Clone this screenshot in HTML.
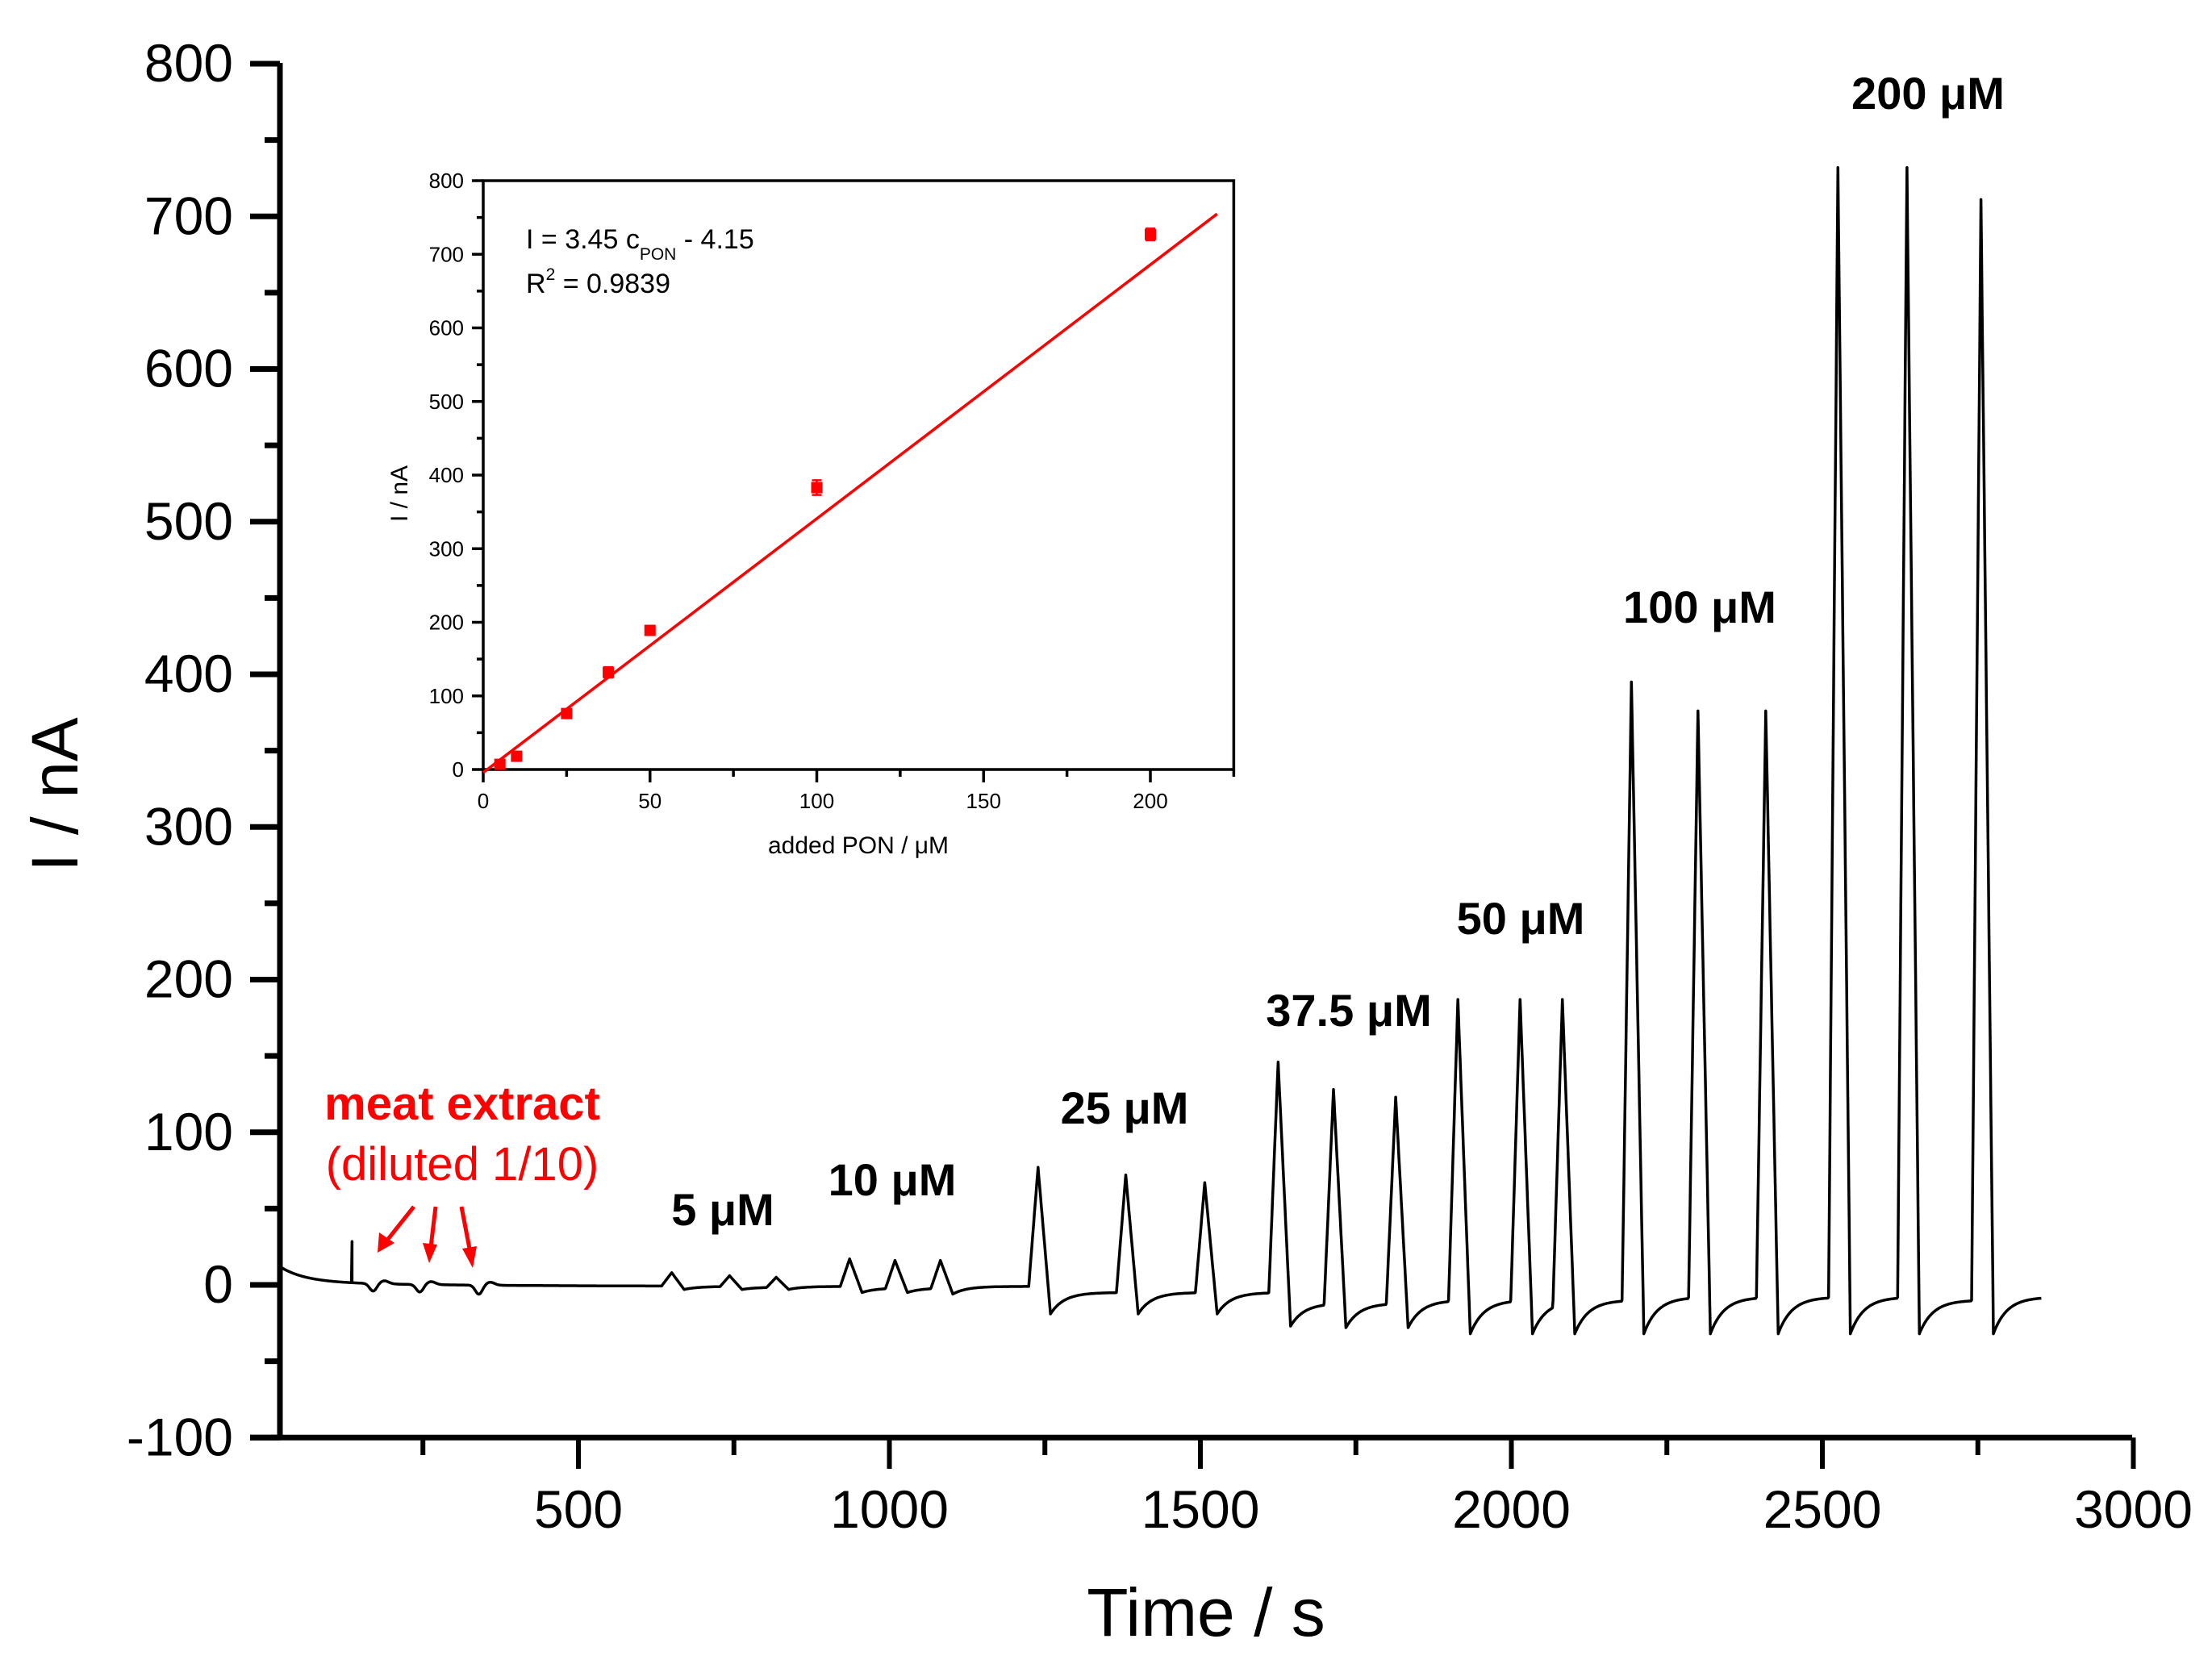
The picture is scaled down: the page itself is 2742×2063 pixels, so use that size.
<!DOCTYPE html>
<html><head><meta charset="utf-8"><style>
html,body{margin:0;padding:0;background:#fff;}
svg{display:block;font-family:"Liberation Sans",Arial,sans-serif;}
</style></head><body>
<svg id="chart" width="2742" height="2063" viewBox="0 0 2742 2063" xmlns="http://www.w3.org/2000/svg">
<g id="main-axes"></g>
<g id="trace-g"></g>
<g id="annot">
<text x="2390" y="135" font-size="56" font-weight="bold" text-anchor="middle">200 μM</text>
<text x="2107" y="772" font-size="56" font-weight="bold" text-anchor="middle">100 μM</text>
<text x="1885" y="1158" font-size="56" font-weight="bold" text-anchor="middle">50 μM</text>
<text x="1672" y="1272" font-size="56" font-weight="bold" text-anchor="middle">37.5 μM</text>
<text x="1394" y="1393" font-size="56" font-weight="bold" text-anchor="middle">25 μM</text>
<text x="1106" y="1482" font-size="56" font-weight="bold" text-anchor="middle">10 μM</text>
<text x="896" y="1519" font-size="56" font-weight="bold" text-anchor="middle">5 μM</text>
<text x="573" y="1388" font-size="58" font-weight="bold" fill="#ff0000" text-anchor="middle">meat extract</text>
<text x="573" y="1463" font-size="58" fill="#ff0000" text-anchor="middle">(diluted 1/10)</text>
<g stroke="#ff0000" stroke-width="5" fill="#ff0000">
<line x1="513" y1="1496" x2="478" y2="1540"/><polygon points="468,1553 470,1528 489,1541" stroke="none"/>
<line x1="540" y1="1496" x2="534" y2="1546"/><polygon points="532,1566 524,1541 542,1543" stroke="none"/>
<line x1="572" y1="1496" x2="582" y2="1548"/><polygon points="586,1572 573,1548 591,1545" stroke="none"/>
</g>
</g>
<g id="inset"></g>
</svg>
<script>
// ---- main trace data ----
const peakTimes = [650,743,818, 936,1009,1082, 1239,1380,1507, 1625,1714,1814, 1914,2014,2082, 2193,2300,2409, 2525,2636,2755];
const peakHeights = [8,6,5, 17,16,16, 77,72,67, 146,128,123, 187,187,187, 395,376,376, 732,732,711];
const dipValues = [-3,-3,-3, -5,-5,-6, -19,-19,-19, -27,-28,-28, -32,-32,-32, -32,-32,-32, -32,-32,-32];
const preLevels = [0,-1,-1.5, -1,-2,-2, -1,-5,-5, -5,-12,-12, -10,-10,-10, -10,-8,-8, -8,-8,-10];
const endLevel = -8;
const meatTimes = [170,245,340];
const meatDips = [-5,-5,-6];
const spikeTime = 136, spikeHeight = 27;
const tStart = 20, tEnd = 2852;
const xTicks = [500,1000,1500,2000,2500,3000];
const yTicks = [-100,0,100,200,300,400,500,600,700,800];
// ---- inset data ----
const calX = [5,10,25,37.5,50,100,200];
const calY = [7,18,76,132,189,383,727];
const calErr = [3,3,4,7,4,10,8];
const fitSlope = 3.45, fitIntercept = -4.15;
const insetXTicks = [0,50,100,150,200];
const insetYTicks = [0,100,200,300,400,500,600,700,800];

const NS = "http://www.w3.org/2000/svg";
function mk(tag, attrs, parent){ const e=document.createElementNS(NS,tag); for(const k in attrs) e.setAttribute(k,attrs[k]); parent.appendChild(e); return e; }

// main axis functions
const X = t => 331.5 + t*0.771;
const Y = v => 1593 - v*1.8925;
const ax = document.getElementById('main-axes');
const xL = 347, xR = 2640, yTop = 81, yBot = Y(-100);

let e;
e = mk('line',{x1:xL,y1:yTop-3,x2:xL,y2:yBot+3,stroke:'#000','stroke-width':7},ax);
 
e = mk('line',{x1:310,y1:yBot,x2:xR+3,y2:yBot,stroke:'#000','stroke-width':7},ax);
 
yTicks.forEach(v=>{
  const y=Y(v);
  const t=mk('line',{x1:310,y1:y,x2:xL,y2:y,stroke:'#000','stroke-width':7},ax);
   
  const l=mk('text',{x:289,y:y+22,'font-size':66,'text-anchor':'end'},ax); l.textContent=v;
   
  if(v<800){ const m=mk('line',{x1:328,y1:Y(v+50),x2:xL,y2:Y(v+50),stroke:'#000','stroke-width':7},ax);
      }
});
xTicks.forEach(v=>{
  const x=X(v);
  const t=mk('line',{x1:x,y1:yBot,x2:x,y2:1821,stroke:'#000','stroke-width':6},ax);
   
  const l=mk('text',{x:x,y:1894,'font-size':66,'text-anchor':'middle'},ax); l.textContent=v;
   
  const m=mk('line',{x1:X(v-250),y1:yBot,x2:X(v-250),y2:1804,stroke:'#000','stroke-width':6},ax);
   
});
e = mk('text',{x:1495,y:2028,'font-size':84,'text-anchor':'middle'},ax); e.textContent='Time / s';
 
e = mk('text',{x:0,y:0,'font-size':82,'text-anchor':'middle',transform:'translate(96,985) rotate(-90)'},ax); e.textContent='I / nA';
 

// build trace
function valueAt(t){
  let base = 10*Math.exp(-(t-20)/40) + 3*Math.exp(-(t-20)/250) - 1;
  if (t < peakTimes[0]-15){
    let v = base;
    meatTimes.forEach((mt,i)=>{ const d=(t-mt)/8; v += meatDips[i]*Math.exp(-d*d) + 2*Math.exp(-Math.pow((t-mt-18)/10,2)); });
    if (Math.abs(t-spikeTime)<1) v += spikeHeight;
    return v;
  }
  const rise=15, fall=20;
  for(let i=peakTimes.length-1;i>=0;i--){
    const tp=peakTimes[i];
    if (t >= tp-rise){
      const next = i+1<peakTimes.length ? preLevels[i+1] : endLevel;
      if (t<=tp) return preLevels[i] + (peakHeights[i]-preLevels[i])*((t-(tp-rise))/rise);
      if (t<=tp+fall) return peakHeights[i] + (dipValues[i]-peakHeights[i])*((t-tp)/fall);
      return next + (dipValues[i]-next)*Math.exp(-(t-tp-fall)/22);
    }
  }
  return base;
}
let d='';
for(let t=tStart;t<=tEnd;t+=1){
  const v=valueAt(t);
  d += (t===tStart?'M':'L')+X(t).toFixed(1)+','+Y(v).toFixed(1);
  if (Math.abs(t-spikeTime)<1) d += 'L'+X(t).toFixed(1)+','+Y(v-spikeHeight).toFixed(1);
}
const tr = mk('path',{d:d,fill:'none',stroke:'#000','stroke-width':3.5,'stroke-linejoin':'round'},document.getElementById('trace-g'));
 

// ---- inset ----
const ig = document.getElementById('inset');
const IX = c => 599 + c*4.135;
const IY = v => 954 - v*0.9125;
e = mk('rect',{x:599,y:IY(800),width:IX(225)-599,height:954-IY(800),fill:'#fff',stroke:'#000','stroke-width':3.5},ig);
 
insetYTicks.forEach(v=>{
  const y=IY(v);
  const t=mk('line',{x1:585,y1:y,x2:599,y2:y,stroke:'#000','stroke-width':3.5},ig);
   
  const l=mk('text',{x:575,y:y+9,'font-size':26,'text-anchor':'end'},ig); l.textContent=v;
   
  if(v<800){ const m=mk('line',{x1:591,y1:IY(v+50),x2:599,y2:IY(v+50),stroke:'#000','stroke-width':3.5},ig);
      }
});
insetXTicks.forEach(v=>{
  const x=IX(v);
  const t=mk('line',{x1:x,y1:954,x2:x,y2:970,stroke:'#000','stroke-width':3.5},ig);
   
  const l=mk('text',{x:x,y:1002,'font-size':26,'text-anchor':'middle'},ig); l.textContent=v;
   
  const m=mk('line',{x1:IX(v+25),y1:954,x2:IX(v+25),y2:963,stroke:'#000','stroke-width':3.5},ig);
   
});
e = mk('text',{x:1064,y:1058,'font-size':30,'text-anchor':'middle'},ig); e.textContent='added PON / μM';
 
e = mk('text',{x:0,y:0,'font-size':30,'text-anchor':'middle',transform:'translate(505,612) rotate(-90)'},ig); e.textContent='I / nA';
 
e = mk('line',{x1:IX(0),y1:IY(fitIntercept),x2:IX(220),y2:IY(fitSlope*220+fitIntercept),stroke:'#ff0000','stroke-width':3.5},ig);
 
calX.forEach((c,i)=>{
  const x=IX(c), y=IY(calY[i]);
  const eb=mk('path',{d:`M${x},${IY(calY[i]+calErr[i])}V${IY(calY[i]-calErr[i])}M${x-6},${IY(calY[i]+calErr[i])}H${x+6}M${x-6},${IY(calY[i]-calErr[i])}H${x+6}`,stroke:'#ff0000','stroke-width':2.5,fill:'none'},ig);
   
  const p=mk('rect',{x:x-7,y:y-7,width:14,height:14,fill:'#ff0000'},ig);
   
});
e = mk('text',{x:652,y:308,'font-size':34},ig);
e.innerHTML='I = 3.45 c<tspan font-size="21" dy="14">PON</tspan><tspan dy="-14"> - 4.15</tspan>';
 
e = mk('text',{x:652,y:363,'font-size':34},ig);
e.innerHTML='R<tspan font-size="21" dy="-16">2</tspan><tspan dy="16"> = 0.9839</tspan>';
 
</script>
</body></html>
